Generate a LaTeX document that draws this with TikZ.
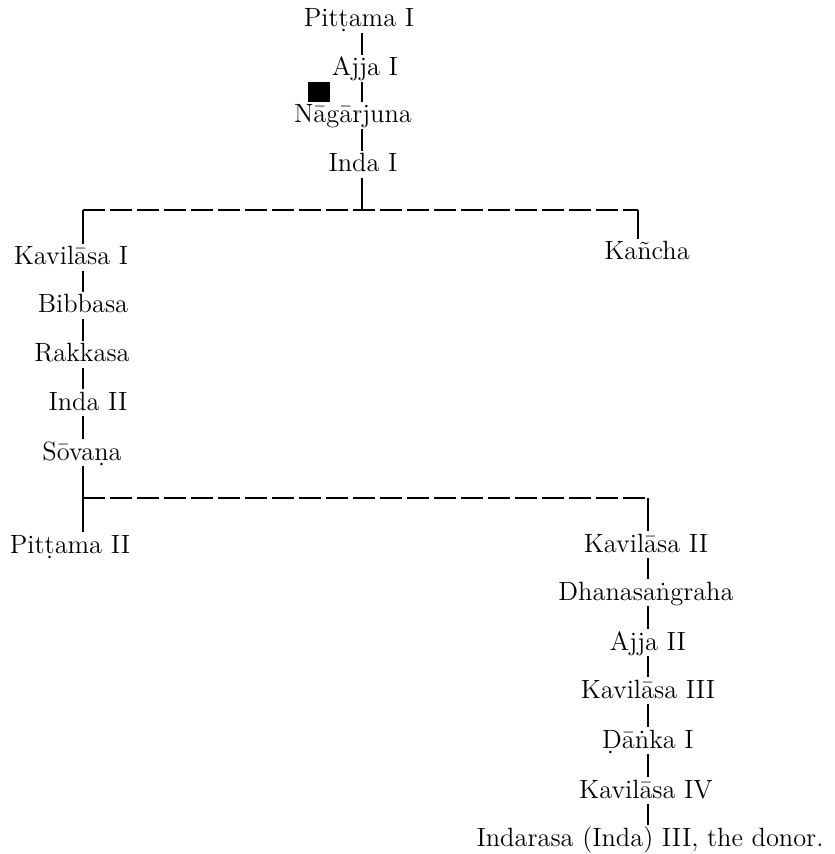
\documentclass[tikz,border=0pt]{standalone}
\usepackage{tikz}
\begin{document}
\begin{tikzpicture}[x=0.5pt,y=-0.5pt,
    person/.style={anchor=base,inner sep=0pt,text height=10.5pt,text depth=3pt,
      font=\fontsize{13.2}{15}\selectfont},
    link/.style={line width=1pt},
    bar/.style={line width=1pt,dash pattern=on 11pt off 2.5pt}]
  \useasboundingbox (0,0) rectangle (834,854);
  \coordinate (trunk) at (362,210);
  \coordinate (barAL) at (83,210);
  \coordinate (barAR) at (638,210);
  \coordinate (barBL) at (83,498);
  \coordinate (barBR) at (648,498);

  % first generations
  \node[person] (pit1) at (359,27) {Pitṭama I};
  \node[person] (ajja1) at (365,76) {Ajja I};
  \node[person] (naga) at (353,123) {Nāgārjuna};
  \node[person] (inda1) at (363,172) {Inda I};
  \fill (308,82) rectangle (330,102);
  \draw[link] (pit1.south -| trunk) -- (ajja1.north -| trunk);
  \draw[link] (ajja1.south -| trunk) -- (naga.north -| trunk);
  \draw[link] (naga.south -| trunk) -- (inda1.north -| trunk);
  \draw[link] (inda1.south -| trunk) -- (trunk);
  \draw[bar] (barAL) -- (barAR);

  % left line
  \node[person] (kav1) at (71,265) {Kavilāsa I};
  \node[person] (kanca) at (647,260) {Kañcha};
  \node[person] (bibba) at (83,313) {Bibbasa};
  \node[person] (rakka) at (82,362) {Rakkasa};
  \node[person] (inda2) at (88,410) {Inda II};
  \node[person] (sova) at (82,460) {Sōvaṇa};
  \draw[link] (barAL) -- (kav1.north -| barAL);
  \draw[link] (barAR) -- (kanca.north -| barAR);
  \draw[link] (kav1.south -| barAL) -- (bibba.north -| barAL);
  \draw[link] (bibba.south -| barAL) -- (rakka.north -| barAL);
  \draw[link] (rakka.south -| barAL) -- (inda2.north -| barAL);
  \draw[link] (inda2.south -| barAL) -- (sova.north -| barAL);
  \draw[link] (sova.south -| barBL) -- (barBL);
  \draw[bar] (barBL) -- (barBR);

  % right line
  \node[person] (pit2) at (70,553) {Pitṭama II};
  \node[person] (kav2) at (646,552) {Kavilāsa II};
  \node[person] (dhana) at (646,600) {Dhanasaṅgraha};
  \node[person] (ajja2) at (648,650) {Ajja II};
  \node[person] (kav3) at (648,698) {Kavilāsa III};
  \node[person] (danka) at (648,748) {Ḍāṅka I};
  \node[person] (kav4) at (646,798) {Kavilāsa IV};
  \node[person] (donor) at (650,846) {Indarasa (Inda) III, the donor.};
  \draw[link] (barBL) -- (pit2.north -| barBL);
  \draw[link] (barBR) -- (kav2.north -| barBR);
  \draw[link] (kav2.south -| barBR) -- (dhana.north -| barBR);
  \draw[link] (dhana.south -| barBR) -- (ajja2.north -| barBR);
  \draw[link] (ajja2.south -| barBR) -- (kav3.north -| barBR);
  \draw[link] (kav3.south -| barBR) -- (danka.north -| barBR);
  \draw[link] (danka.south -| barBR) -- (kav4.north -| barBR);
  \draw[link] (kav4.south -| barBR) -- (donor.north -| barBR);
\end{tikzpicture}
\end{document}
